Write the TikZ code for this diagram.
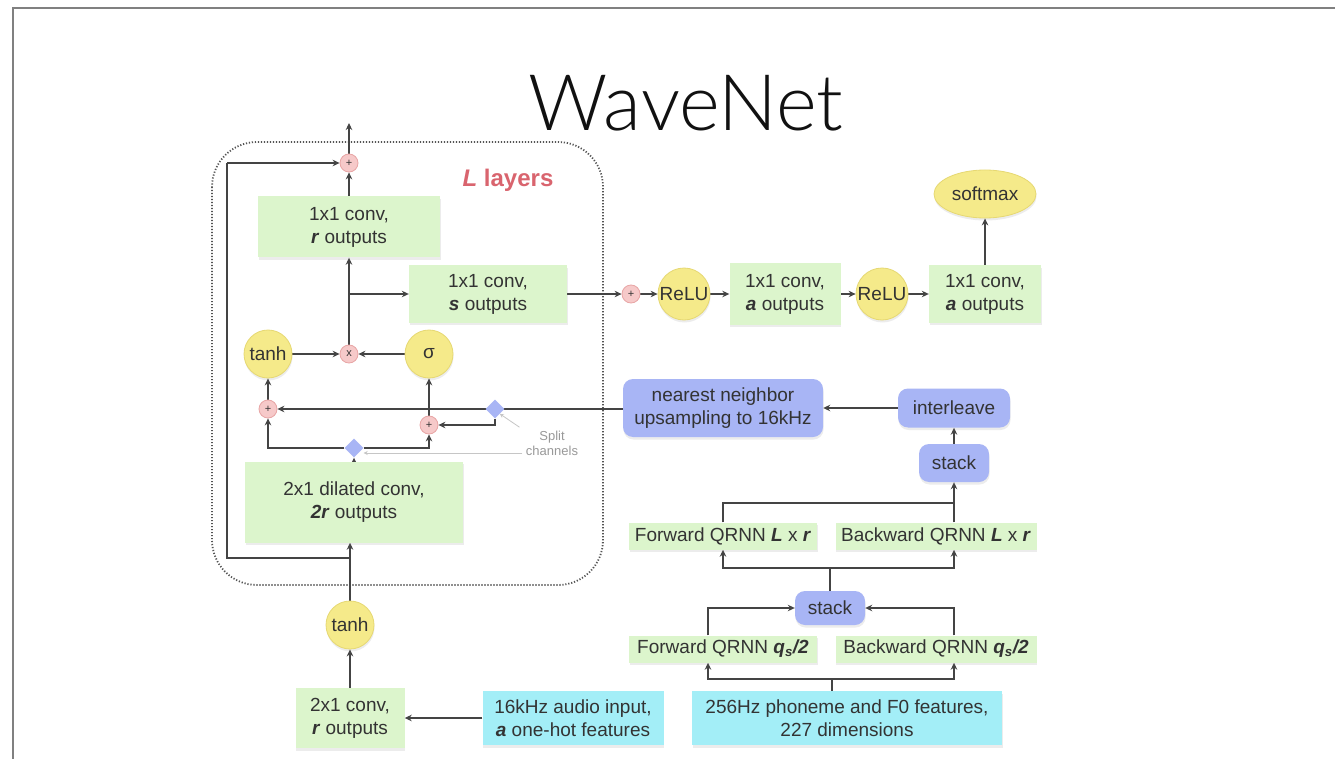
\documentclass[tikz,border=0pt]{standalone}
\usepackage{fontspec}
\setmainfont{Liberation Sans}
\IfFontExistsTF{Lato Light}{\newfontfamily\titlefont{Lato Light}}{\newfontfamily\titlefont{Liberation Sans}}
\usetikzlibrary{arrows.meta,shapes.geometric,backgrounds,shadows}
\definecolor{linec}{HTML}{444444}
\definecolor{textc}{HTML}{333333}
\definecolor{titlec}{HTML}{111111}
\definecolor{boxg}{HTML}{DCF5CC}
\definecolor{circy}{HTML}{F5EA8A}
\definecolor{circyb}{HTML}{E6D872}
\definecolor{pinkf}{HTML}{F6C9C9}
\definecolor{pinkb}{HTML}{E8A5A5}
\definecolor{blueb}{HTML}{A8B5F5}
\definecolor{cyanb}{HTML}{A3EEF7}
\definecolor{redt}{HTML}{D9646E}
\definecolor{frameg}{HTML}{808080}
\newcommand\myBI[1]{\textbf{\textit{#1}}}
\begin{document}
\begin{tikzpicture}[x=1pt,y=-1pt,
  ln/.style={draw=linec, line width=2.2pt},
  arr/.style={ln, -{Stealth[length=7pt,width=6.5pt]}},
  txt/.style={font=\fontsize{19}{23}\selectfont, text=textc, align=center},
  shad/.style={drop shadow={shadow xshift=0.5pt,shadow yshift=-2.5pt,opacity=0.15}},
  gbox/.style={txt, rectangle, fill=boxg, inner sep=0pt, shad},
  bbox/.style={txt, rectangle, rounded corners=10pt, fill=blueb, inner sep=0pt, shad},
  cbox/.style={txt, rectangle, fill=cyanb, inner sep=0pt, shad},
  ycirc/.style={txt, circle, fill=circy, draw=circyb, line width=0.8pt, inner sep=0pt, shad},
  pcirc/.style={circle, fill=pinkf, draw=pinkb, line width=0.8pt, minimum size=18pt, inner sep=0pt,
    font=\fontsize{11}{11}\selectfont, text=textc},
  diam/.style={diamond, fill=blueb, minimum width=19pt, minimum height=19pt, inner sep=0pt},
  note/.style={font=\fontsize{13}{15}\selectfont, text=gray!80, align=center},
  noteln/.style={draw=gray!45, line width=0.8pt}
]
\useasboundingbox (0,0) rectangle (1335,759);
\begin{pgfonlayer}{background}
\fill[white] (0,0) rectangle (1335,759);
\end{pgfonlayer}
\draw[frameg, line width=2pt] (13,759) -- (13,8) -- (1335,8);

% title
\node[font=\titlefont\fontsize{78}{82}\selectfont, text=titlec, anchor=base] (title) at (686,131) {WaveNet};

% layer block nodes
\node[font=\fontsize{24}{26}\selectfont\bfseries, text=redt] (llab) at (508,180) {\textit{L} layers};
\node[pcirc] (plusT) at (349,163) {+};
\coordinate (topend) at (349,123);
\node[gbox, minimum width=182pt, minimum height=61pt] (rbox) at (349,227) {1x1 conv,\\\myBI{r} outputs};
\node[gbox, minimum width=158pt, minimum height=57pt] (sbox) at (488,294) {1x1 conv,\\\myBI{s} outputs};
\node[pcirc] (times) at (349,354) {x};
\node[ycirc, minimum size=48pt] (tanhA) at (268,354) {tanh};
\node[ycirc, minimum size=48pt] (sig) at (429,354) {σ};
\node[pcirc] (plusL) at (268,409) {+};
\node[pcirc] (plusR) at (429,425) {+};
\node[diam] (diamA) at (495,409) {};
\node[diam] (diamB) at (354,448) {};
\node[note] (split) at (552,443) {Split\\channels};
\node[gbox, minimum width=218pt, minimum height=81pt] (dil) at (354,502) {2x1 dilated conv,\\\myBI{2r} outputs};
\node[ycirc, minimum size=48pt] (tanhB) at (350,625) {tanh};
\node[gbox, minimum width=109pt, minimum height=60pt] (conv21) at (350,718) {2x1 conv,\\\myBI{r} outputs};
\node[cbox, minimum width=181pt, minimum height=54pt] (audio) at (573,718) {16kHz audio input,\\\myBI{a} one-hot features};

% output chain
\node[pcirc] (plusS) at (631,294) {+};
\node[ycirc, minimum size=52pt] (relu1) at (684,294) {ReLU};
\node[gbox, minimum width=111pt, minimum height=61pt] (abox1) at (785,294) {1x1 conv,\\\myBI{a} outputs};
\node[ycirc, minimum size=52pt] (relu2) at (882,294) {ReLU};
\node[gbox, minimum width=112pt, minimum height=57pt] (abox2) at (985,294) {1x1 conv,\\\myBI{a} outputs};
\node[txt, ellipse, fill=circy, draw=circyb, line width=0.8pt, minimum width=102pt, minimum height=48pt, inner sep=0pt, shad] (soft) at (985,194) {softmax};

% conditioning network
\node[bbox, minimum width=200pt, minimum height=58pt] (nn) at (723,408) {nearest neighbor\\upsampling to 16kHz};
\node[bbox, minimum width=112pt, minimum height=39pt] (inter) at (954,408) {interleave};
\node[bbox, minimum width=70pt, minimum height=38pt] (stack2) at (954,463) {stack};
\node[gbox, minimum width=188pt, minimum height=27pt] (fl) at (723,536) {Forward QRNN \myBI{L} x \myBI{r}};
\node[gbox, minimum width=201pt, minimum height=27pt] (bl) at (936,536) {Backward QRNN \myBI{L} x \myBI{r}};
\node[bbox, minimum width=70pt, minimum height=34pt] (stack1) at (830,608) {stack};
\node[gbox, minimum width=188pt, minimum height=27pt] (fq) at (723,649) {Forward QRNN \myBI{q}\textsubscript{\myBI{s}}\myBI{/2}};
\node[gbox, minimum width=201pt, minimum height=27pt] (bq) at (936,649) {Backward QRNN \myBI{q}\textsubscript{\myBI{s}}\myBI{/2}};
\node[cbox, minimum width=310pt, minimum height=54pt] (phon) at (847,718) {256Hz phoneme and F0 features,\\227 dimensions};

\coordinate (jb) at (350,558);
\coordinate (jl) at (227,558);
\coordinate (jt) at (227,163);
\coordinate (pj) at (832,679);
\coordinate (sj) at (830,568);
\coordinate (lj) at (954,503);

\begin{pgfonlayer}{background}
\draw[draw={rgb,255:red,85;green,85;blue,85}, line width=1.8pt, dash pattern=on 1.2pt off 1.8pt, rounded corners=45pt] (212,142) rectangle (603,585);
% layer block
\draw[arr] (plusT.north) -- (topend);
\draw[arr] (rbox.north) -- (plusT.south);
\draw[arr] (times.north) -- (times.north |- rbox.south);
\draw[arr] (times.north |- sbox.west) -- (sbox.west);
\draw[arr] (tanhA.east) -- (times.west);
\draw[arr] (sig.west) -- (times.east);
\draw[arr] (plusL.north) -- (tanhA.south);
\draw[arr] (plusR.north) -- (sig.south);
\draw[arr] (nn.west |- plusL.east) -- (plusL.east);
\draw[arr] (diamA.south) |- (plusR.east);
\draw[arr] (diamB.west) -| (plusL.south);
\draw[arr] (diamB.east) -| (plusR.south);
\draw[arr, line width=1.4pt] (dil.north -| diamB.south) -- (diamB.south);
\draw[arr] (tanhB.north) -- (tanhB.north |- dil.south);
\draw[ln] (jb) -- (jl) -- (jt);
\draw[arr] (jt) -- (plusT.west);
\draw[arr] (conv21.north) -- (tanhB.south);
\draw[arr] (audio.west) -- (conv21.east);
\draw[noteln, -{Stealth[length=4pt,width=4pt]}] ([xshift=-3pt]split.north west) -- (diamA.south east);
\draw[noteln, -{Stealth[length=4pt,width=4pt]}] (split.west |- 0,453) -- (diamB.east |- 0,453);
% output chain
\draw[arr] (sbox.east) -- (plusS.west);
\draw[arr] (plusS.east) -- (relu1.west);
\draw[arr] (relu1.east) -- (abox1.west);
\draw[arr] (abox1.east) -- (relu2.west);
\draw[arr] (relu2.east) -- (abox2.west);
\draw[arr] (abox2.north) -- (soft.south);
% conditioning
\draw[arr] (inter.west) -- (nn.east);
\draw[arr] (stack2.north) -- (inter.south);
\draw[ln] (fl.north) |- (lj);
\draw[arr] (lj |- bl.north) -- (stack2.south);
\draw[ln] (sj) -- (stack1.north);
\draw[arr] (sj) -| (fl.south);
\draw[arr] (sj) -| (lj |- bl.south);
\draw[arr] ([xshift=-15pt]fq.north) |- (stack1.west);
\draw[arr] (lj |- bq.north) |- (stack1.east);
\draw[ln] (phon.north -| pj) -- (pj);
\draw[arr] (pj) -| ([xshift=-15pt]fq.south);
\draw[arr] (pj) -| (lj |- bq.south);
\end{pgfonlayer}
\end{tikzpicture}
\end{document}
